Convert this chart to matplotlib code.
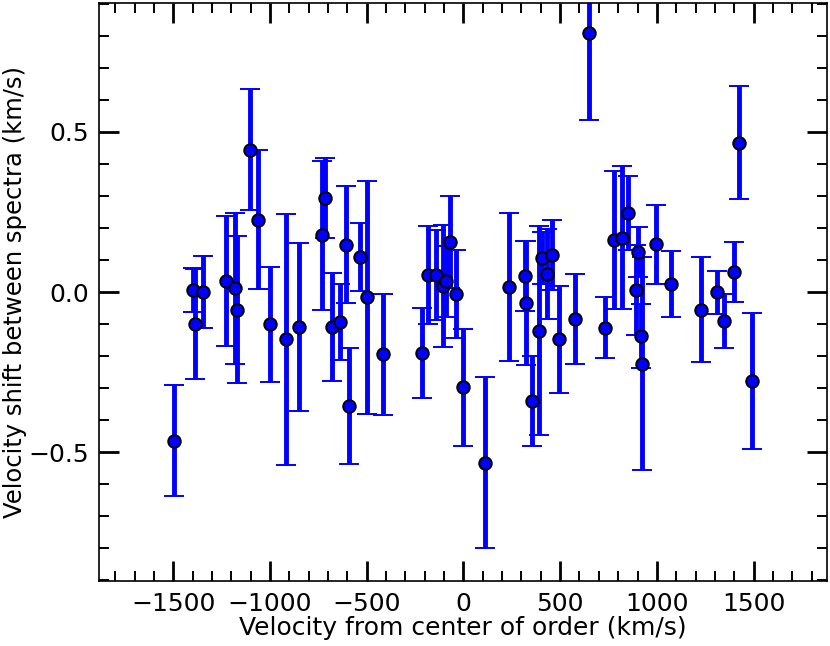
import matplotlib
matplotlib.use("Agg")
import matplotlib.pyplot as plt
from matplotlib.ticker import MultipleLocator

# Data
velocity = [-1498, -1400, -1386, -1348, -1230, -1182, -1173, -1105, -1065, -1000,
            -917, -850, -730, -715, -682, -641, -606, -590, -536, -500,
            -417, -216, -183, -141, -105, -90, -68, -39, -2, 112,
            234, 316, 324, 355, 392, 405, 432, 460, 496, 579,
            647, 731, 778, 822, 853, 890, 903, 920, 925, 994,
            1074, 1229, 1309, 1347, 1398, 1424, 1490]
shift = [-0.465, 0.006, -0.100, 0.001, 0.034, 0.011, -0.055, 0.445, 0.226, -0.101,
         -0.148, -0.110, 0.177, 0.294, -0.110, -0.094, 0.148, -0.356, 0.110, -0.017,
         -0.195, -0.190, 0.053, 0.053, 0.019, 0.033, 0.156, -0.006, -0.298, -0.533,
         0.016, 0.050, -0.034, -0.340, -0.121, 0.106, 0.056, 0.116, -0.148, -0.084,
         0.808, -0.111, 0.162, 0.170, 0.248, 0.006, 0.125, -0.136, -0.224, 0.149,
         0.025, -0.055, -0.001, -0.091, 0.063, 0.467, -0.278]
shift_err = [0.173, 0.070, 0.173, 0.112, 0.203, 0.237, 0.230, 0.190, 0.217, 0.180,
             0.393, 0.262, 0.232, 0.124, 0.168, 0.120, 0.182, 0.180, 0.106, 0.365,
             0.188, 0.140, 0.153, 0.140, 0.190, 0.110, 0.143, 0.138, 0.183, 0.268,
             0.232, 0.110, 0.193, 0.140, 0.326, 0.082, 0.140, 0.110, 0.167, 0.140,
             0.270, 0.094, 0.215, 0.224, 0.116, 0.140, 0.078, 0.100, 0.333, 0.123,
             0.104, 0.165, 0.067, 0.084, 0.093, 0.177, 0.213]

xlabel = "Velocity from center of order (km/s)"
ylabel = "Velocity shift between spectra (km/s)"

plt.rcParams['font.family'] = ['DejaVu Sans']

fig = plt.figure(figsize=(8.3, 6.46), dpi=100)
ax = fig.add_axes([99 / 830, 65 / 646, 728 / 830, 578 / 646])

ax.errorbar(velocity, shift, yerr=shift_err, fmt='o', color='#0000ff',
            ecolor='#0000ff', elinewidth=3.5, capsize=7.5, capthick=2.4,
            markersize=9, markerfacecolor='#0000ff', markeredgecolor='black',
            markeredgewidth=1.4)

ax.set_xlim(-1885, 1880)
ax.set_ylim(-0.903, 0.903)

ax.xaxis.set_major_locator(MultipleLocator(500))
ax.xaxis.set_minor_locator(MultipleLocator(100))
ax.yaxis.set_major_locator(MultipleLocator(0.5))
ax.yaxis.set_minor_locator(MultipleLocator(0.1))

ax.tick_params(which='both', direction='in', top=True, right=True)
ax.tick_params(which='major', length=14.5, width=2.0, labelsize=18)
ax.tick_params(axis='x', which='major', pad=8)
ax.tick_params(axis='y', which='major', pad=7)
ax.tick_params(which='minor', length=7.5, width=1.4)

for sp in ax.spines.values():
    sp.set_linewidth(1.2)

ax.set_xlabel(xlabel, fontsize=18, labelpad=0)
ax.set_ylabel(ylabel, fontsize=17.5, labelpad=1)

fig.savefig("out.png", dpi=100)
